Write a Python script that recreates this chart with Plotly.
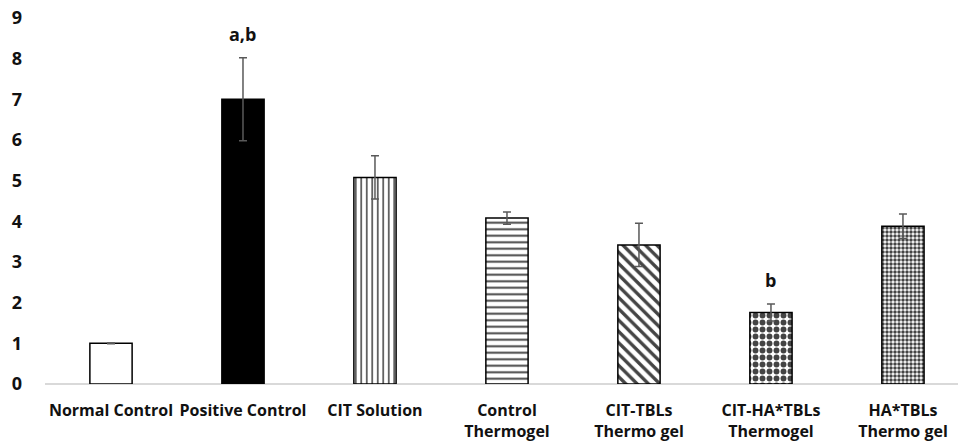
import plotly.graph_objects as go

categories = ["Normal Control", "Positive Control", "CIT Solution", "Control<br>Thermogel",
              "CIT-TBLs<br>Thermo gel", "CIT-HA*TBLs<br>Thermogel", "HA*TBLs<br>Thermo gel"]
means = [1.0, 7.0, 5.08, 4.08, 3.42, 1.76, 3.88]
errors = [0.01, 1.02, 0.53, 0.15, 0.53, 0.21, 0.30]
letters = ["", "a,b", "", "", "", "b", ""]
y_ticks = [0, 1, 2, 3, 4, 5, 6, 7, 8, 9]

fill_colors = ["white", "black", "white", "white", "white", "white", "white"]
shapes = ["", "", "|", "-", "\\", ".", "."]
sizes = [8, 8, 5.5, 6.5, 8, 7, 4]
solidity = [0.3, 0.3, 0.28, 0.3, 0.42, 0.55, 0.6]

FONT = "Open Sans"
x = list(range(len(categories)))

fig = go.Figure()
fig.add_trace(go.Bar(
    x=x, y=means, width=0.32,
    marker=dict(
        color=fill_colors,
        line=dict(color="black", width=1.5),
        pattern=dict(shape=shapes, size=sizes, solidity=solidity,
                     fgcolor="black", fgopacity=1, fillmode="overlay"),
    ),
    error_y=dict(type="data", array=errors, visible=True,
                 color="#595959", thickness=1.5, width=4),
    showlegend=False,
))

for i, (m, e, t) in enumerate(zip(means, errors, letters)):
    if t:
        fig.add_annotation(x=i, y=m + e, yshift=10, text=f"<b>{t}</b>", showarrow=False,
                           font=dict(family=FONT, size=18, color="#111"), yanchor="bottom")

fig.update_layout(
    width=958, height=442,
    margin=dict(l=45, r=0, t=18, b=58),
    paper_bgcolor="white", plot_bgcolor="white",
    font=dict(family=FONT, color="#111"),
    xaxis=dict(tickmode="array", tickvals=x,
               ticktext=[f"<b>{c}</b>" for c in categories],
               range=[-0.5, 6.417], showgrid=False, zeroline=False,
               showline=False, ticks="", ticklabelstandoff=15,
               tickfont=dict(size=16, family=FONT, color="#111")),
    yaxis=dict(range=[0, 9], tickvals=y_ticks, ticktext=[f"<b>{v}</b>" for v in y_ticks],
               showgrid=False, zeroline=True, zerolinecolor="#d9d9d9", zerolinewidth=1.5,
               showline=False, ticks="", ticklabelstandoff=22,
               tickfont=dict(size=18, family=FONT, color="#111")),
)

fig.write_html("out.html")
